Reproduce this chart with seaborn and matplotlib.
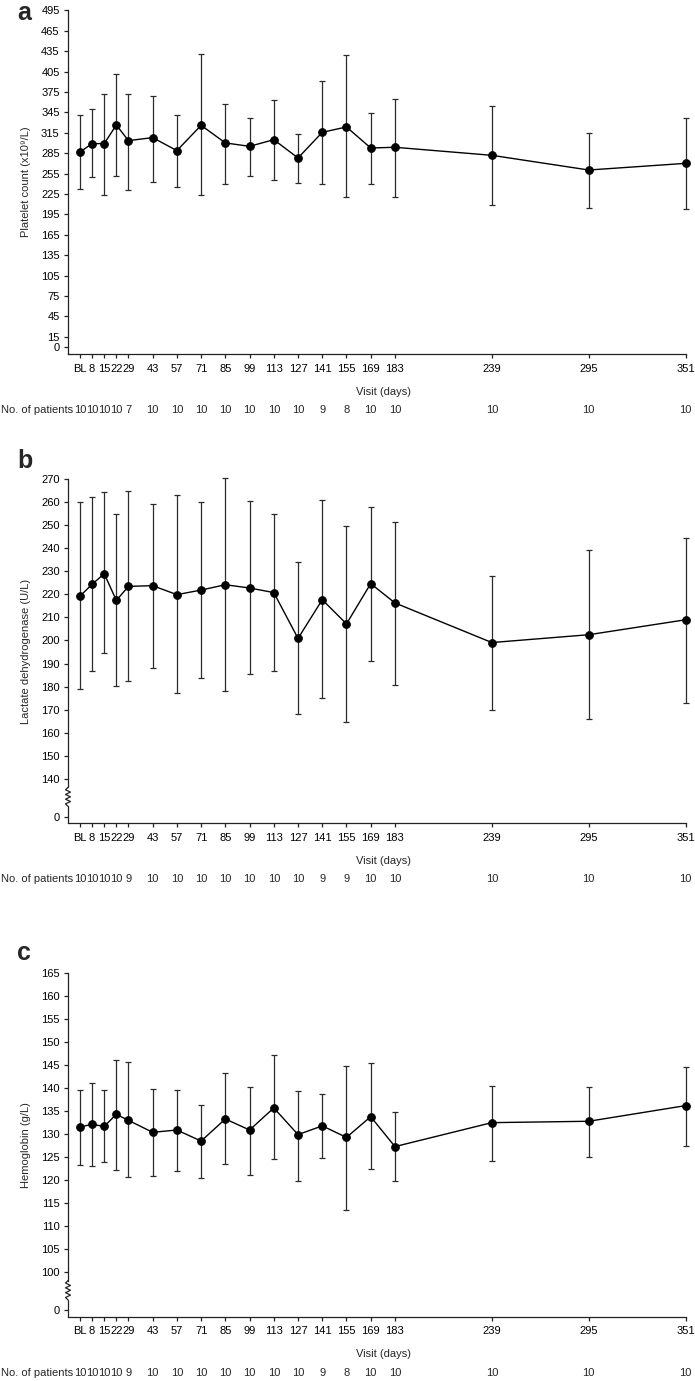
import numpy as np
import pandas as pd
import matplotlib
matplotlib.use("Agg")
import matplotlib.pyplot as plt
import matplotlib.transforms as mtransforms
import seaborn as sns

# visits (study day) and their tick labels
visit_days = [1, 8, 15, 22, 29, 43, 57, 71, 85, 99, 113, 127, 141, 155, 169, 183, 239, 295, 351]
visit_labels = ["BL", "8", "15", "22", "29", "43", "57", "71", "85", "99", "113", "127",
                "141", "155", "169", "183", "239", "295", "351"]

# a: platelet count (x10^9/L), mean with upper/lower whiskers
plt_mean = [286.7, 299.0, 299.0, 326.4, 303.4, 307.8, 288.7, 325.9, 300.0, 295.0, 304.8,
            277.9, 315.6, 323.5, 292.6, 293.6, 281.8, 260.2, 270.0]
plt_upper = [340.6, 350.4, 371.5, 400.9, 371.5, 369.5, 340.6, 430.3, 357.8, 336.2, 363.2,
             313.7, 390.6, 428.8, 344.5, 365.1, 353.8, 314.2, 336.2]
plt_lower = [232.8, 249.5, 224.0, 250.9, 230.8, 242.1, 235.2, 223.0, 239.2, 251.9, 245.5,
             241.1, 239.2, 220.1, 239.7, 221.0, 208.8, 204.9, 202.4]
plt_n = [10, 10, 10, 10, 7, 10, 10, 10, 10, 10, 10, 10, 9, 8, 10, 10, 10, 10, 10]

# b: lactate dehydrogenase (U/L)
ldh_mean = [219.3, 224.4, 229.0, 217.4, 223.5, 223.8, 219.9, 221.9, 224.2, 222.8, 220.8,
            200.9, 217.7, 207.2, 224.7, 216.3, 199.1, 202.5, 209.0]
ldh_upper = [260.3, 262.2, 264.6, 254.8, 264.8, 259.1, 263.0, 260.2, 270.6, 260.6, 254.8,
             234.0, 261.0, 249.7, 258.1, 251.6, 228.2, 239.2, 244.7]
ldh_lower = [178.9, 186.8, 194.4, 180.1, 182.6, 187.9, 177.1, 183.6, 178.1, 185.5, 186.9,
             167.9, 174.9, 164.5, 191.2, 180.5, 170.0, 165.8, 172.9]
ldh_n = [10, 10, 10, 10, 9, 10, 10, 10, 10, 10, 10, 10, 9, 9, 10, 10, 10, 10, 10]

# c: hemoglobin (g/L)
hgb_mean = [131.6, 132.1, 131.7, 134.3, 133.0, 130.4, 130.9, 128.5, 133.3, 130.9, 135.7,
            129.9, 131.8, 129.3, 133.8, 127.3, 132.5, 132.8, 136.2]
hgb_upper = [139.5, 141.2, 139.5, 146.2, 145.7, 139.7, 139.6, 136.3, 143.2, 140.2, 147.2,
             139.3, 138.8, 144.8, 145.4, 134.9, 140.5, 140.3, 144.6]
hgb_lower = [123.3, 123.0, 123.9, 122.3, 120.7, 120.9, 122.1, 120.4, 123.5, 121.2, 124.5,
             119.9, 124.9, 113.5, 122.5, 119.9, 124.1, 125.1, 127.5]
hgb_n = [10, 10, 10, 10, 9, 10, 10, 10, 10, 10, 10, 10, 9, 8, 10, 10, 10, 10, 10]

W, H = 695, 1381
sns.set_theme(style="ticks")
plt.rcParams["font.family"] = ["Liberation Sans", "DejaVu Sans"]
plt.rcParams["axes.linewidth"] = 0.9
plt.rcParams["xtick.major.width"] = 0.9
plt.rcParams["ytick.major.width"] = 0.9

fig = plt.figure(figsize=(W / 100, H / 100), dpi=100)
AX_L, AX_R = 68, 686


def add_axes(top_px, bottom_px):
    return fig.add_axes([AX_L / W, 1 - bottom_px / H, (AX_R - AX_L) / W, (bottom_px - top_px) / H])


def draw_panel(ax, mean, lower, upper, n, ylim, yticks, yticklabels, ylabel, brk=None):
    df = pd.DataFrame({"day": visit_days, "value": mean})
    yerr = [np.array(mean) - np.array(lower), np.array(upper) - np.array(mean)]
    ax.errorbar(visit_days, mean, yerr=yerr, fmt="none", ecolor="#2b2b2b",
                elinewidth=0.9, capsize=2, capthick=0.9, clip_on=False, zorder=2)
    sns.lineplot(data=df, x="day", y="value", ax=ax, color="black", lw=1.0,
                 marker="o", markersize=5.5, markeredgecolor="black", clip_on=False, zorder=3)
    ax.set_xlim(-5.93, 351.2)
    ax.set_ylim(*ylim)
    ax.set_xticks(visit_days)
    ax.set_xticklabels(visit_labels)
    ax.set_yticks(yticks)
    ax.set_yticklabels(yticklabels)
    ax.tick_params(axis="both", labelsize=8, length=3, width=0.9, colors="#222222", labelcolor="black")
    ax.tick_params(axis="x", pad=4)
    ax.tick_params(axis="y", pad=3)
    sns.despine(ax=ax)
    for s in ["left", "bottom"]:
        ax.spines[s].set_color("#222222")

    ax.set_ylabel(ylabel, fontsize=8)
    ax.yaxis.set_label_coords(-0.060, 0.5)
    ax.set_xlabel("Visit (days)", fontsize=8)
    ax.xaxis.label.set_va("center")
    h = ax.get_position().height * H
    ax.xaxis.set_label_coords(0.51, -37.7 / h)

    tr = mtransforms.blended_transform_factory(ax.transData, ax.transAxes)
    for d, c in zip(visit_days, n):
        ax.text(d, -56 / h, str(c), transform=tr, ha="center", va="center", fontsize=8)
    ax.text(-67 / 618, -56 / h, "No. of patients", transform=ax.transAxes,
            ha="left", va="center", fontsize=8)

    if brk is not None:
        z_top, z_bot = brk
        ax.spines["left"].set_bounds(z_top, ylim[1])
        ytr = ax.get_yaxis_transform()
        k = 9
        ys = np.linspace(z_top, z_bot, k)
        xs = np.zeros(k)
        xs[1:-1:2] = -0.004
        xs[2:-1:2] = 0.004
        ax.plot(xs, ys, transform=ytr, color="#222222", lw=0.9, clip_on=False)
        ax.plot([0, 0], [z_bot, ylim[0]], transform=ytr, color="#222222", lw=0.9, clip_on=False)


# panel a
ax_a = add_axes(10.3, 354)
draw_panel(ax_a, plt_mean, plt_lower, plt_upper, plt_n, (-10.3, 495),
           [0] + list(range(15, 496, 30)), ["0"] + [str(v) for v in range(15, 496, 30)],
           "Platelet count (x10⁹/L)")

# panel b
ax_b = add_axes(479.3, 823.3)
b_ticks = list(range(140, 271, 10))
draw_panel(ax_b, ldh_mean, ldh_lower, ldh_upper, ldh_n, (120.6, 270),
           [123.5] + b_ticks, ["0"] + [str(v) for v in b_ticks],
           "Lactate dehydrogenase (U/L)", brk=(136.2, 128.0))

# panel c
ax_c = add_axes(973, 1316.5)
c_ticks = list(range(100, 166, 5))
draw_panel(ax_c, hgb_mean, hgb_lower, hgb_upper, hgb_n, (90.4, 165),
           [91.8] + c_ticks, ["0"] + [str(v) for v in c_ticks],
           "Hemoglobin (g/L)", brk=(98.2, 94.0))

fig.text(17 / W, 1 - 1 / H, "a", fontsize=18, fontweight="bold", va="top", ha="left")
for letter, x, y in [("b", 17, 468), ("c", 17, 960)]:
    fig.text(x / W, 1 - y / H, letter, fontsize=18, fontweight="bold", va="baseline", ha="left")

fig.savefig("out.png", dpi=100)
